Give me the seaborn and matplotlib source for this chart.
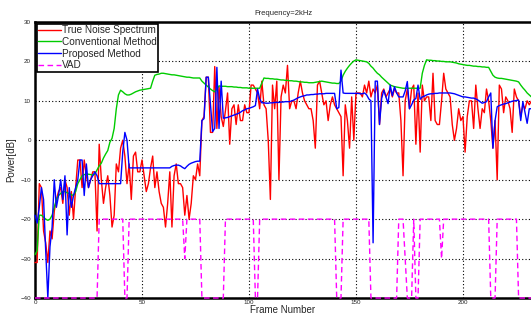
import numpy as np
import seaborn as sns
import matplotlib.pyplot as plt

# per-frame values (frames 0..232)
true_noise = [
    -31, -31, -11, -12, -23, -26, -31, -23, -25, -18,
    -15, -13, -12, -16, -10, -12, -19, -13, -20, -12,
    -5, -5, -12, -5, -9, -12, -10, -8, -8, -23,
    -1, -10, -16, -12, -9, -14, -22, -19, -6, -8,
    -2, 0, -4, -11, -6, -15, -4, -3, -8, -8,
    -5, -9, -13, -11, -7, -4, -12, -8, -13, -16,
    -17, -22, -16, -8, -22, -9, -6, -11, -11, -12,
    -19, -14, -20, -16, -9, -10, -6, -9, 5, 6,
    16, 16, 2, 2, 18.7, 3, 13.6, 6, 3.5, 7.5,
    12, -1, 8, 9, 4, 9, 5, 5, 9, 7,
    7, 14, 14, 13, 12, 8, 15, 9, 8, 0,
    -15, 14, 8, 15, -10, 11, 14, 12, 19, 8,
    10, 10, 8, 12, 15, 12, 10, 9, 8, 8,
    5, -2, 14, 15, 12, 9, 10, 5, 9, 11,
    9, 8, 7, 6, -9, 9, 5, -2, 11, 0,
    12, 12, 12, 11, 14, 12, 15, 11, 13, 12,
    14, 4, 12, 13, 11, 12, 13, 11, 13, 12,
    12, 5, -9, 10, 13, 8, 13, 14, -1, 12,
    -3, 14, 10, 11, 11, 5, 17, 5, 4, 4,
    10, 17, 13, 12, 11, 4, 0, 3, 8, 5,
    6, -3, 6, 10, 10, 3, 14, 8, 3, 8,
    7, 13, 10, 5, -2, 5, -10, 14, 13, 7,
    11, 10, 8, 2, 13, 11, 10, 6, 9, 8,
    10, 9, 10,
]

conventional = [
    -29, -28, -19, -19, -19.5, -20, -20.3, -20, -19, -17,
    -15, -14, -13.5, -13, -13, -13.3, -13.5, -13.8, -14, -13,
    -11, -10, -9, -8.7, -8.6, -8.6, -8.7, -8.8, -8.6, -7.5,
    -6.5, -5.8, -4.5, -3.5, -2.6, -0.5, 0.5, 3, 8, 11.5,
    12.7, 12.3, 11.8, 11.5, 11.5, 11.7, 12, 12.3, 12.5, 12.7,
    12.8, 12.9, 13, 13.1, 13.2, 15, 16.5, 16.7, 16.8, 17,
    17, 16.9, 16.8, 16.7, 16.6, 16.6, 16.5, 16.4, 16.3, 16.2,
    16.1, 16, 16, 15.9, 15.8, 15.8, 15.8, 15.8, 15, 14.5,
    14, 13.5, 13, 12.6, 12.3, 13, 13.8, 13.7, 13.7, 13.7,
    13.6, 13.6, 13.6, 13.5, 13.5, 13.4, 13.4, 13.3, 13.3, 13.3,
    13.2, 13.2, 13.2, 13.2, 13.2, 13.2, 14.5, 15.8, 15.7, 15.7,
    15.6, 15.6, 15.5, 15.5, 15.4, 15.3, 15.3, 15.2, 15.2, 15.1,
    15.1, 15, 15, 14.9, 14.8, 14.8, 14.7, 14.7, 14.6, 14.6,
    14.6, 14.7, 14.8, 14.9, 15, 14.9, 14.8, 14.7, 14.6, 14.5,
    14.5, 14.4, 14.4, 15, 16.5, 17.5, 18.3, 19, 19.6, 20.1,
    20.4, 20.3, 20.2, 20.1, 20, 19.9, 19.5, 18.8, 18.3, 17.6,
    17, 16.6, 16, 15.5, 15, 14.5, 14, 13.8, 13.6, 13.5,
    13.4, 13.3, 13.2, 13.2, 13.2, 13.2, 13.2, 13.2, 13.2, 13.2,
    13.2, 17, 19, 20.4, 20.3, 20.3, 20.2, 20.2, 20.1, 20.1,
    20, 20, 19.9, 19.9, 19.9, 19.8, 19.7, 19.6, 19.4, 19.3,
    19.2, 19.1, 19, 19, 18.9, 18.8, 18.8, 18.7, 18.7, 18.6,
    18.6, 18.5, 18.5, 17.5, 16.5, 16, 15.8, 15.7, 15.7, 15.6,
    15.5, 15.4, 15.3, 15.2, 15.1, 15, 14.8, 14, 13.3, 12.7,
    12, 11.5, 11,
]

proposed = [
    -19, -21, -17, -12, -15, -28, -40, -27, -22, -10,
    -17, -14, -10, -15, -9, -24, -12, -17, -14, -12,
    -10, -5, -5, -14, -6, -12, -10, -9, -8, -9,
    -11, -11, -11, -11, -11, -11, -11, -11, -11, -11,
    -11, -3, 2, 0, -7, -7, -7, -7, -7, -7,
    -7, -7, -7, -7, -7, -7, -7, -7, -7, -7,
    -7, -7, -7, -7, -6.6, -6.4, -6.3, -6.3, -6.5, -6.9,
    -7.2, -6.6, -6.1, -5.8, -5.6, -5.4, -5.3, -5.3, 5, 5.5,
    16, 16, 9, 2.2, 3, 18.5, 3, 15, 5.6, 5.7,
    5.8, 6, 6.2, 6.4, 6.6, 6.8, 7.1, 7.5, 7.7, 8,
    8.1, 8.3, 8.5, 8.8, 13, 10.5, 9.5, 9.5, 9.4, 9.4,
    9.5, 9.5, 9.6, 9.6, 9.6, 9.7, 9.7, 9.8, 9.8, 9.8,
    10, 10.2, 10.5, 10.8, 11, 11.2, 11.3, 11.5, 11.5, 11.6,
    11.6, 11.7, 11.7, 11.8, 11.8, 11.8, 11.9, 11.9, 11.9, 11.9,
    11.9, 8, 8.3, 17.8, 12, 11.9, 11.9, 11.9, 11.9, 11.9,
    11.9, 11.9, 11.8, 11.8, 12, 11.5, 10.5, 10, -26, 15,
    15, 4, 10.6, 12.7, 11, 9.3, 14, 11.3, 13.6, 12,
    11, 11, 11, 12.5, 14.9, 8, 9, 10.2, 10.6, 14,
    10.4, 11, 11.2, 11.5, 11.7, 11.8, 11.8, 11.9, 11.9, 12,
    12, 12, 12, 12, 12, 11.9, 11.8, 11.6, 11.4, 11.2,
    11, 11, 10.9, 10.8, 10.7, 10.7, 10.5, 10.2, 9.8, 9.4,
    9.6, 9.8, 11, 12, -2, 5, 8.5, 8.8, 9, 9.2,
    9.3, 9.5, 9.7, 9.9, 10, 10.1, 10.2, 5, 9.8, 7,
    4.3, 8, 8,
]

vad = [
    -40, -40, -40, -40, -40, -40, -40, -40, -40, -40,
    -40, -40, -40, -40, -40, -40, -40, -40, -40, -40,
    -40, -40, -40, -40, -40, -40, -40, -40, -40, -40,
    -20, -20, -20, -20, -20, -20, -20, -20, -20, -20,
    -20, -20, -40, -40, -20, -20, -20, -20, -20, -20,
    -20, -20, -20, -20, -20, -20, -20, -20, -20, -20,
    -20, -20, -20, -20, -20, -20, -20, -20, -20, -20,
    -30, -20, -20, -20, -20, -20, -20, -20, -40, -40,
    -40, -40, -40, -40, -40, -40, -40, -40, -40, -20,
    -20, -20, -20, -20, -20, -20, -20, -20, -20, -20,
    -20, -20, -20, -40, -40, -20, -20, -20, -20, -20,
    -20, -20, -20, -20, -20, -20, -20, -20, -20, -20,
    -20, -20, -20, -20, -20, -20, -20, -20, -20, -20,
    -20, -20, -20, -20, -20, -20, -20, -20, -20, -20,
    -20, -40, -40, -40, -20, -20, -20, -20, -20, -20,
    -20, -20, -20, -20, -20, -20, -20, -40, -40, -40,
    -40, -40, -40, -40, -40, -40, -40, -40, -40, -40,
    -20, -20, -20, -30, -40, -40, -40, -20, -40, -40,
    -20, -20, -20, -20, -20, -20, -20, -20, -20, -20,
    -30, -20, -20, -20, -20, -20, -20, -20, -20, -20,
    -20, -20, -20, -20, -20, -20, -20, -20, -20, -20,
    -20, -20, -20, -40, -40, -40, -20, -20, -20, -20,
    -20, -20, -20, -20, -20, -20, -40, -40, -40, -40,
    -40, -40, -40,
]

frames = np.arange(len(true_noise))
y_ticks = [-40, -30, -20, -10, 0, 10, 20, 30]
x_ticks = [0, 50, 100, 150, 200]

sns.set_theme(style="white")
plt.rcParams['font.family'] = ['Liberation Sans', 'DejaVu Sans']

fig = plt.figure(figsize=(5.31, 3.15), dpi=100)
ax = fig.add_axes([35 / 531, 17 / 315, 1 - 35 / 531, 276 / 315])

lw = 1.0
sns.lineplot(x=frames, y=true_noise, ax=ax, color='#ff0000', lw=lw, label='True Noise Spectrum')
sns.lineplot(x=frames, y=conventional, ax=ax, color='#00cc00', lw=lw, label='Conventional Method')
sns.lineplot(x=frames, y=proposed, ax=ax, color='#0000ff', lw=lw, label='Proposed Method')
sns.lineplot(x=frames, y=vad, ax=ax, color='#ff00ff', lw=lw, label='VAD')
ax.lines[-1].set_dashes((4, 2.5))
for ln in ax.lines:
    ln.set_zorder(3)
    ln.set_clip_on(False)

ax.set_xlim(0, 231.8)
ax.set_ylim(-40, 30)
ax.set_xticks(x_ticks)
ax.set_yticks(y_ticks)
ax.tick_params(labelsize=4.5, length=0, pad=3)
ax.tick_params(axis='x', pad=1.5)
ax.grid(True, color='black', linestyle=(0, (1, 2)), linewidth=0.8)

for side in ['left', 'top', 'bottom']:
    ax.spines[side].set_color('black')
    ax.spines[side].set_linewidth(1.8)
    ax.spines[side].set_zorder(2.5)
ax.spines['right'].set_visible(False)

ax.set_title('Frequency=2kHz', fontsize=5.5, pad=5)
ax.set_xlabel('Frame Number', fontsize=7, va='bottom')
ax.xaxis.set_label_coords(0.5, -17 / 276)
ax.set_ylabel('Power[dB]', fontsize=7, labelpad=3)

leg = ax.legend(loc='upper left', fontsize=7.2, handlelength=2.3, handletextpad=0.1,
                labelspacing=0.18, borderpad=0.15, borderaxespad=0.15,
                fancybox=False, framealpha=1, edgecolor='black')
leg.get_frame().set_linewidth(1.2)
leg.set_zorder(5)
leg.get_lines()[-1].set_dashes((4, 2.5))

fig.savefig('out.png', dpi=100, facecolor='white')
